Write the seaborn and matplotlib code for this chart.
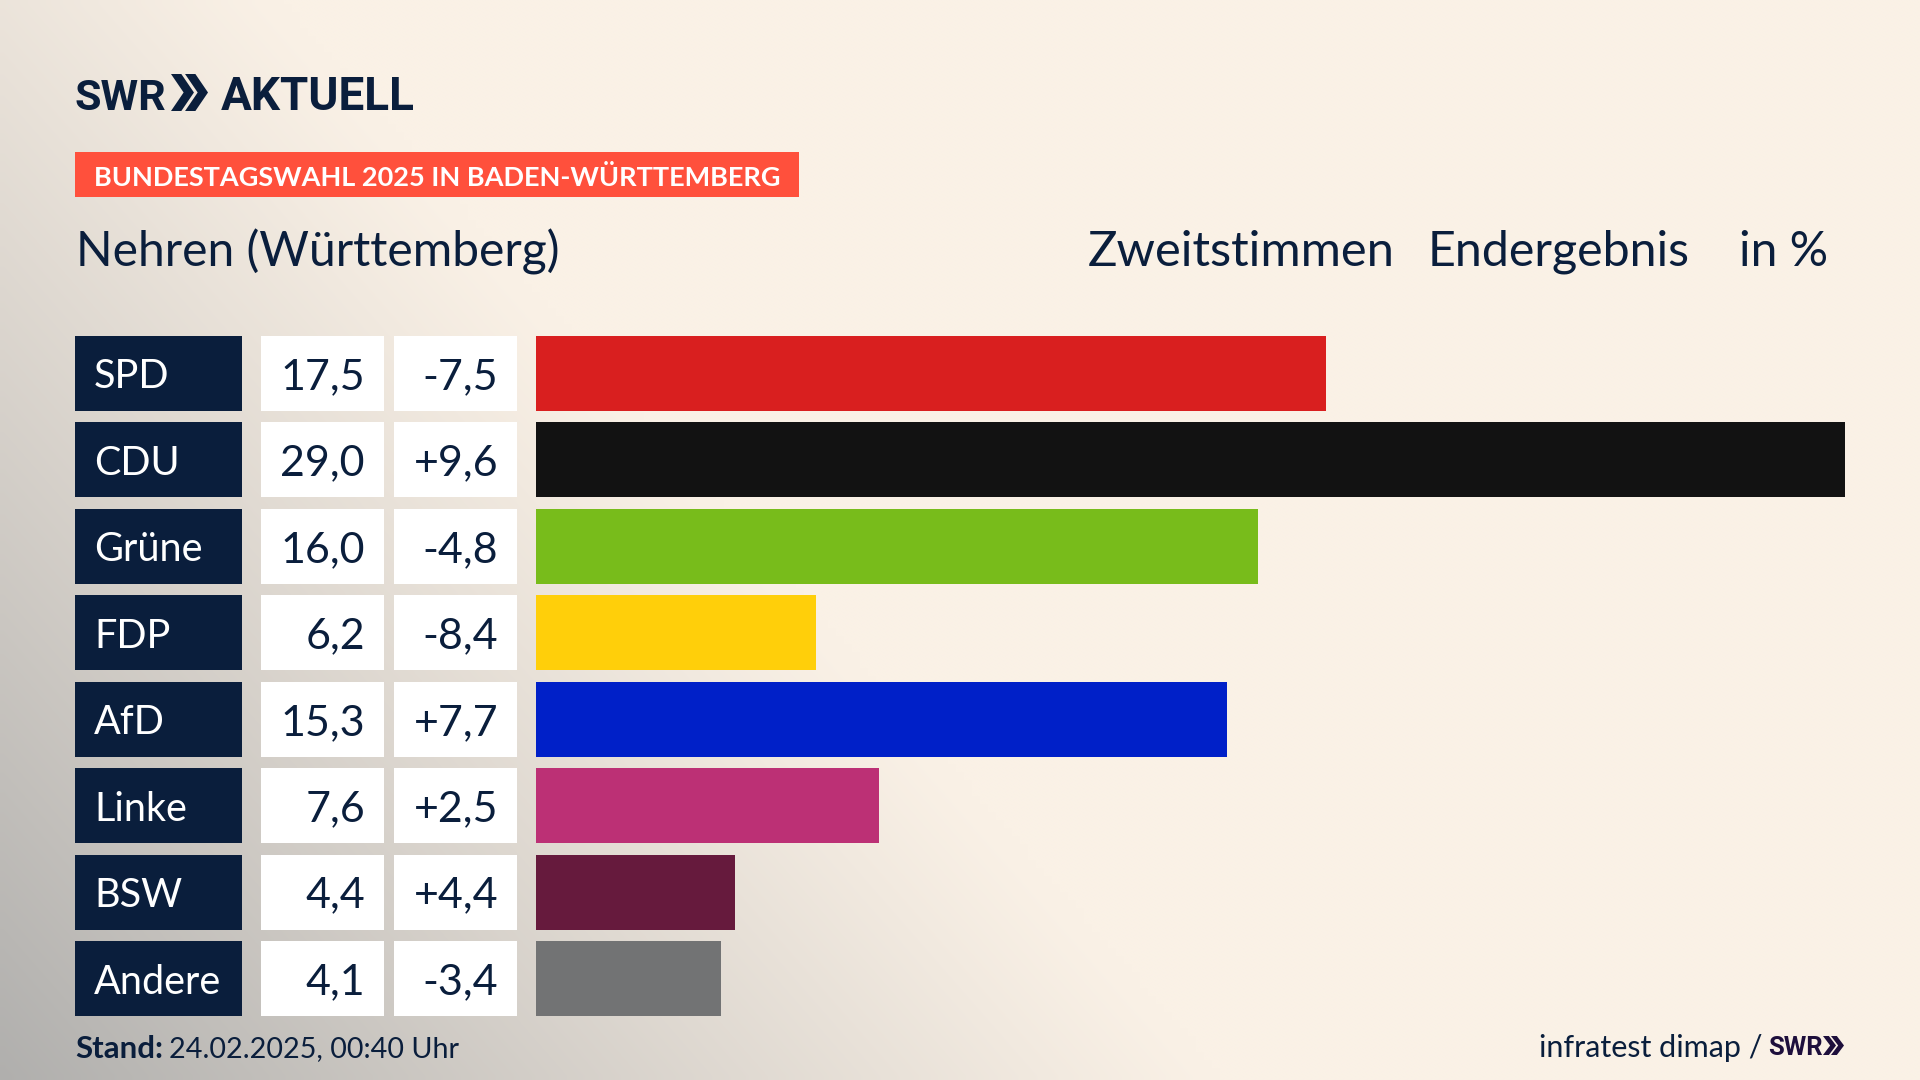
import numpy as np
import pandas as pd
import seaborn as sns
import matplotlib.pyplot as plt
from matplotlib.patches import Rectangle, Polygon

# =============================================================================
# DATA
# =============================================================================
parties = ["SPD", "CDU", "Grüne", "FDP", "AfD", "Linke", "BSW", "Andere"]
shares = [17.5, 29.0, 16.0, 6.2, 15.3, 7.6, 4.4, 4.1]
changes = ["-7,5", "+9,6", "-4,8", "-8,4", "+7,7", "+2,5", "+4,4", "-3,4"]
party_colors = ["#D91F1F", "#121212", "#78BC1B", "#FFCF0A",
                "#0020C8", "#BC3075", "#661A3D", "#727374"]

NAVY = "#0A1E3C"
CORAL = "#FF503C"
CREAM = np.array([250, 241, 230]) / 255
GREY = np.array([176, 175, 173]) / 255

# Layout in pixels of the 1920x1080 picture
ROW_TOP = 336
ROW_PITCH = 86.43
ROW_H = 75
BAR_LEFT = 536
BAR_RIGHT = 1845

sns.set_theme(style="white")
plt.rcParams["font.family"] = ["Lato", "DejaVu Sans"]

fig = plt.figure(figsize=(19.2, 10.8), dpi=100)

# Background: cream with a diagonal grey shade from the lower left corner
bg = fig.add_axes([0, 0, 1, 1], zorder=0)
bg.set_axis_off()
xx, yy = np.meshgrid(np.arange(0, 1920, 8), np.arange(0, 1080, 8))
shade = np.clip(1 - (xx + (1080 - yy) * 0.875) / 1220, 0, 1) ** 1.1
shade = shade[..., None]
bg.imshow(CREAM * (1 - shade) + GREY * shade, aspect="auto", extent=(0, 1920, 1080, 0),
          interpolation="bilinear")

# Overlay in picture pixels for boxes and text
px = fig.add_axes([0, 0, 1, 1], zorder=2)
px.set_xlim(0, 1920)
px.set_ylim(1080, 0)
px.set_axis_off()

# Bars
pad = (ROW_PITCH - ROW_H) / 2
ax_top = ROW_TOP - pad
ax_bottom = ax_top + ROW_PITCH * len(parties)
ax = fig.add_axes([BAR_LEFT / 1920, 1 - ax_bottom / 1080,
                   (BAR_RIGHT - BAR_LEFT) / 1920, (ax_bottom - ax_top) / 1080], zorder=1)
df = pd.DataFrame({"party": parties, "share": shares})
sns.barplot(data=df, x="share", y="party", hue="party", palette=party_colors,
            legend=False, width=ROW_H / ROW_PITCH, saturation=1, linewidth=0, ax=ax)
ax.set_xlim(0, max(shares))
ax.set_axis_off()

# Table part of each row
for i, party in enumerate(parties):
    top = ROW_TOP + i * ROW_PITCH
    mid = top + ROW_H / 2
    px.add_patch(Rectangle((75, top), 167, ROW_H, color=NAVY, lw=0))
    px.add_patch(Rectangle((261, top), 123, ROW_H, color="white", lw=0))
    px.add_patch(Rectangle((394, top), 123, ROW_H, color="white", lw=0))
    px.text(94, mid, party, color="white", fontsize=28.5, va="center_baseline")
    px.text(365, mid, f"{shares[i]:.1f}".replace(".", ","), color=NAVY, fontsize=31,
            ha="right", va="center_baseline")
    px.text(498, mid, changes[i], color=NAVY, fontsize=31, ha="right", va="center_baseline")


def chevrons(x, y, w, h, color):
    # two arrow heads of the SWR logo
    cw = w * 0.62
    for off in (0, w - cw):
        px.add_patch(Polygon([(x + off, y), (x + off + cw * 0.45, y), (x + off + cw, y + h / 2),
                              (x + off + cw * 0.45, y + h), (x + off, y + h),
                              (x + off + cw * 0.55, y + h / 2)], closed=True, color=color, lw=0))


# Logo
px.text(75, 110, "SWR", color=NAVY, fontsize=31, fontweight="bold", family="Roboto", va="baseline")
chevrons(171, 74, 37, 37, NAVY)
px.text(221, 110, "AKTUELL", color=NAVY, fontsize=33, fontweight="bold", family="Roboto", va="baseline")

# Header
px.add_patch(Rectangle((75, 152), 724, 45, color=CORAL, lw=0))
px.text(94, 175, "BUNDESTAGSWAHL 2025 IN BADEN-WÜRTTEMBERG", color="white", fontsize=19.55,
        fontweight="bold", va="center_baseline")
px.text(76, 248, "Nehren (Württemberg)", color=NAVY, fontsize=34.6, va="center_baseline")
px.text(1088, 248, "Zweitstimmen", color=NAVY, fontsize=35.3, va="center_baseline")
px.text(1428, 248, "Endergebnis", color=NAVY, fontsize=34.8, va="center_baseline")
px.text(1739, 248, "in %", color=NAVY, fontsize=34.6, va="center_baseline")

# Footer
px.text(75, 1047, "Stand:", color=NAVY, fontsize=22.5, fontweight="bold", va="center_baseline")
px.text(169, 1047, "24.02.2025, 00:40 Uhr", color=NAVY, fontsize=20.7, va="center_baseline")
px.text(1539, 1046, "infratest dimap /", color=NAVY, fontsize=22, va="center_baseline")
px.text(1768, 1055, "SWR", color="#1E0F3C", fontsize=18.5, fontweight="bold", family="Roboto", va="baseline")
chevrons(1823, 1036, 21, 19, "#1E0F3C")

fig.savefig("out.png", dpi=100)
